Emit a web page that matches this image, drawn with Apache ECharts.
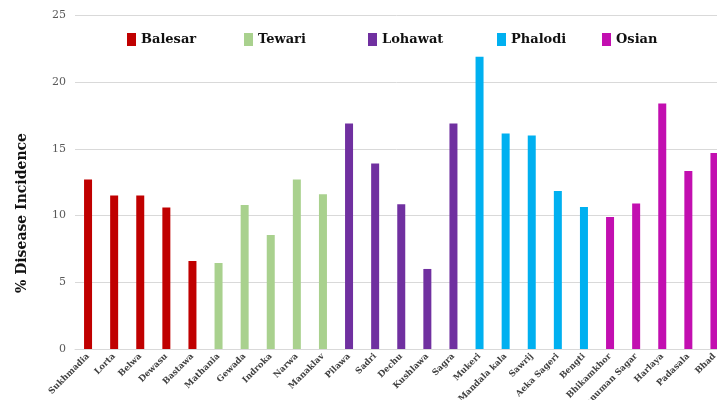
<!DOCTYPE html>
<html><head><meta charset="utf-8">
<script src="https://cdn.jsdelivr.net/npm/echarts@6/dist/echarts.min.js"></script>
<style>html,body{margin:0;padding:0;background:#fff}#c{width:717px;height:400px}</style>
</head><body><div id="c"></div>
<script>
const groupNames = ['Balesar', 'Tewari', 'Lohawat', 'Phalodi', 'Osian'];
const groupColors = ['#c00000', '#a9d18e', '#7030a0', '#00b0f0', '#c20fb0'];
const balesarVillages = ['Sukhmadia', 'Lorta', 'Belwa', 'Dewasu', 'Bastawa'];
const balesarValues = [12.7, 11.5, 11.5, 10.6, 6.6];
const tewariVillages = ['Mathania', 'Gewada', 'Indroka', 'Narwa', 'Manaklav'];
const tewariValues = [6.45, 10.8, 8.55, 12.7, 11.6];
const lohawatVillages = ['Pilawa', 'Sadri', 'Dechu', 'Kushlawa', 'Sagra'];
const lohawatValues = [16.9, 13.9, 10.85, 6.0, 16.9];
const phalodiVillages = ['Mukeri', 'Mandala kala', 'Sawrij', 'Aeka Sageri', 'Bengti'];
const phalodiValues = [21.9, 16.15, 16.0, 11.85, 10.65];
const osianVillages = ['Bhikamkhor', 'Hanuman Sagar', 'Harlaya', 'Padasala', 'Bhad'];
const osianValues = [9.9, 10.9, 18.4, 13.35, 14.7];
const yTicks = [0, 5, 10, 15, 20, 25];

const groups = [
  [balesarVillages, balesarValues],
  [tewariVillages, tewariValues],
  [lohawatVillages, lohawatValues],
  [phalodiVillages, phalodiValues],
  [osianVillages, osianValues]
];
const categories = [].concat(...groups.map(g => g[0]));
const serifFont = '"DejaVu Serif", serif';

const series = groups.map((g, i) => {
  const data = categories.map(c => {
    const idx = g[0].indexOf(c);
    return idx >= 0 ? g[1][idx] : '-';
  });
  return {
    name: groupNames[i], type: 'bar', stack: 'all', data: data,
    barWidth: 8, itemStyle: { color: groupColors[i] }
  };
});

const legendLefts = [122, 239, 363, 492, 597];
const legends = groupNames.map((n, i) => ({
  data: [n], left: legendLefts[i], top: 28, itemWidth: 9, itemHeight: 13,
  icon: 'rect', itemGap: 8,
  textStyle: { fontFamily: serifFont, fontWeight: 'bold', fontSize: 13, color: '#111' }
}));

const chart = echarts.init(document.getElementById('c'));
chart.setOption({
  animation: false,
  backgroundColor: '#fff',
  legend: legends,
  grid: { left: 75, top: 15.5, width: 652.5, height: 333.5, containLabel: false, outerBoundsMode: 'none' },
  xAxis: {
    type: 'category', data: categories,
    axisLine: { lineStyle: { color: '#d9d9d9' } },
    axisTick: { show: false },
    axisLabel: { interval: 0, rotate: 45, fontFamily: serifFont, fontWeight: 'bold', fontSize: 8.5, color: '#404040', margin: 6 }
  },
  yAxis: {
    type: 'value', min: yTicks[0], max: yTicks[yTicks.length - 1], interval: 5,
    splitLine: { lineStyle: { color: '#d9d9d9' } },
    axisLine: { show: false }, axisTick: { show: false },
    axisLabel: { fontFamily: serifFont, fontSize: 11, color: '#595959', margin: 9 }
  },
  graphic: [{
    type: 'text', left: 15, top: 133, rotation: Math.PI / 2,
    style: { text: '% Disease Incidence', font: 'bold 14px "DejaVu Serif", serif', fill: '#111' }
  }],
  series: series
});
</script></body></html>
